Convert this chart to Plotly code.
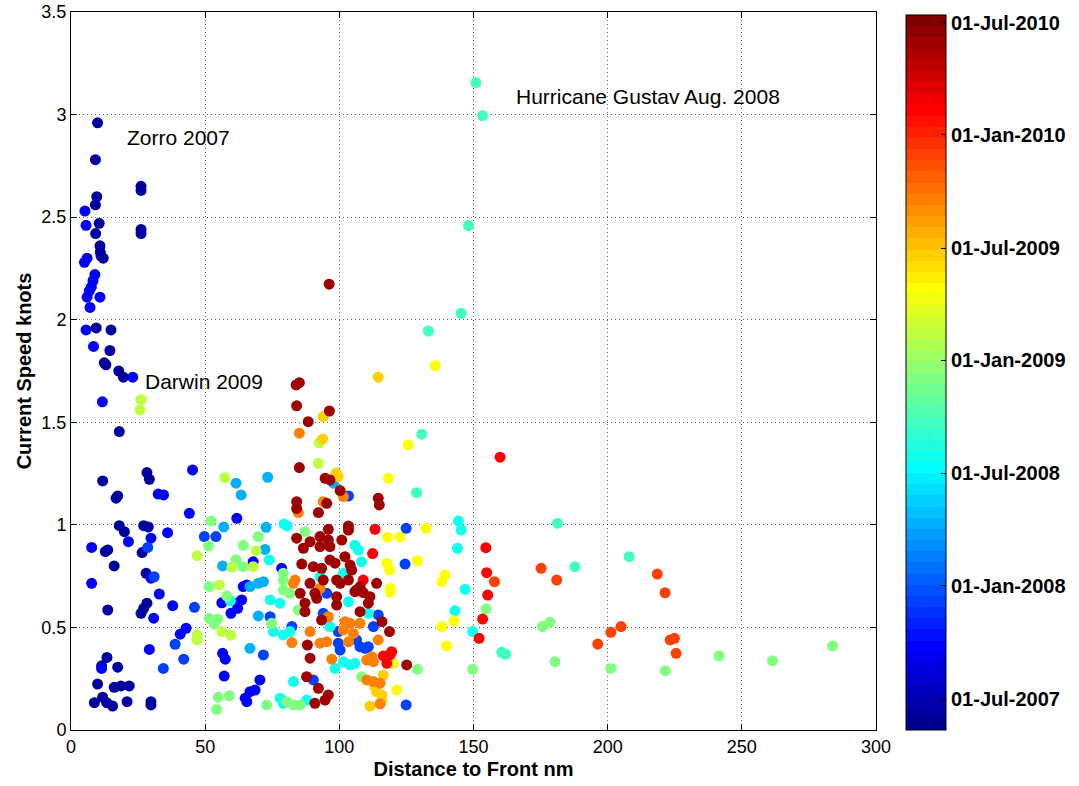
import numpy as np
import datetime as dt
import plotly.graph_objects as go

# ---- data: (distance nm, current speed knots), grouped by approximate date (decimal year) ----
pts_2007_42 = [(9.9,2.96),(9.1,2.78),(26.1,2.65),(26.1,2.63),(9.6,2.60),(9.1,2.56),(10.5,2.47),(9.2,2.42),(26.1,2.42),(26.1,2.44),
    (10.8,2.36),(10.9,2.33),(11.2,2.31),(12.0,2.30),(9.4,1.96),(14.9,1.95),(14.5,1.85),(12.4,1.79),(13.0,1.78),(17.8,1.75),(19.5,1.72),
    (18.0,1.455),(11.8,1.214),(28.3,1.255),(29.2,1.222),(17.4,1.141),(16.8,1.13),(18.0,0.996),(19.9,0.967),(27.1,0.996),(28.8,0.99),
    (26.5,0.865),(12.8,0.87),(13.7,0.878),(16.1,0.80),(28.0,0.764),(13.7,0.585),(28.3,0.618),(27.1,0.593),(26.1,0.569),(13.4,0.354),
    (11.4,0.313),(17.4,0.306),(9.9,0.224),(16.1,0.208),(18.6,0.215),(21.7,0.215),(8.7,0.133),(11.8,0.16),(13.3,0.133),(15.5,0.117),
    (20.9,0.138),(29.8,0.138),(29.8,0.122)]
pts_2007_75 = [(5.2,2.53),(5.6,2.46),(6.0,2.30),(5.0,2.28),(8.9,2.22),(8.2,2.19),(7.6,2.16),(6.8,2.14),(6.0,2.11),(10.8,2.11),(7.1,2.06),
    (5.6,1.95),(8.4,1.87),(23.0,1.72),(11.7,1.60),(32.5,1.15),(34.5,1.146),(45.3,1.268),(44.1,1.056),(29.8,0.935),(21.4,0.918),(36.0,0.962),
    (7.7,0.89),(7.7,0.715),(29.8,0.74),(32.9,0.663),(37.9,0.606),(30.8,0.545),(42.9,0.496),(40.7,0.467),(29.2,0.393),(11.4,0.30),
    (61.8,1.032),(56.2,0.62),(59.6,0.569),(62.1,0.593),(56.5,0.374),(57.5,0.345),(57.1,0.263),(67.9,0.82),(78.5,0.788),(65.5,0.707),
    (64.2,0.699),(61.8,0.618),(63.6,0.634),(70.4,0.244),(68.6,0.195),(66.7,0.187),(64.9,0.155),(65.5,0.138)]
pts_2007_95 = [(28.6,0.89),(31.0,0.747),(46.0,0.598),(38.8,0.418),(42.0,0.345),(34.4,0.30),(49.7,0.943),(54.0,0.943),(103.4,1.141),
    (95.3,0.666),(74.2,0.552),(82.3,0.504),(94.0,0.569),(99.6,0.48),(99.6,0.423),(100.3,0.39),(71.7,0.366),(90.3,0.244),(124.9,0.983),
    (124.5,0.809),(114.5,0.561),(112.7,0.504),(106.4,0.439),(107.7,0.406),(109.6,0.398),(110.8,0.406),(124.9,0.122)]
pts_2008_30 = [(61.5,1.203),(63.4,1.146),(56.9,0.99),(56.5,0.80),(73.3,1.232),(97.8,1.203),(72.7,0.988),(72.3,0.88),(71.7,0.723),
    (69.8,0.715),(66.7,0.699),(69.8,0.556),(66.7,0.398)]
pts_2008_55 = [(59.4,0.63),(79.4,1.004),(80.6,0.995),(105.8,0.90),(107.1,0.877),(73.9,0.829),(92.8,0.747),(101.5,0.764),(74.2,0.634),
    (77.9,0.618),(103.4,0.625),(75.4,0.48),(79.1,0.463),(81.6,0.48),(96.5,0.504),(98.4,0.30),(101.5,0.333),(104.0,0.317),(105.8,0.325),
    (82.9,0.236),(77.9,0.155),(79.1,0.13),(87.8,0.146),(108.3,0.82),(110.8,0.569),(144.4,1.019),(145.4,0.975),(144.0,0.886),
    (146.9,0.686),(143.1,0.582),(149.7,0.48)]
pts_2008_72 = [(133.2,1.945),(130.7,1.442),(128.8,1.157),(150.9,3.156),(153.4,2.995),(148.1,2.459),(145.4,2.031),(181.3,1.008),
    (187.8,0.796),(160.5,0.379),(162.0,0.369),(208.0,0.845)]
pts_2008_93 = [(52.2,1.019),(51.3,0.897),(61.5,0.83),(51.5,0.699),(58.1,0.653),(51.5,0.545),(54.7,0.54),(53.4,0.517),(54.9,0.16),
    (59.0,0.167),(54.3,0.10),(87.2,0.967),(64.2,0.90),(69.8,0.943),(64.2,0.796),(79.1,0.764),(79.1,0.731),(79.1,0.683),(81.6,0.666),
    (84.7,0.585),(74.8,0.52),(80.4,0.138),(82.9,0.122),(85.4,0.122),(72.9,0.122),(129.1,0.296),(108.3,0.26),(154.7,0.59),(175.7,0.504),
    (178.5,0.525),(180.4,0.333),(149.7,0.296),(201.2,0.30),(221.5,0.289),(241.5,0.361),(261.4,0.338),(283.8,0.41)]
pts_2009_12 = [(26.1,1.61),(25.7,1.56),(47.0,0.463),(47.0,0.44),(57.4,1.23),(47.0,0.85),(60.0,0.793),(55.3,0.707),(56.3,0.48),
    (59.6,0.462),(92.5,1.40),(92.2,1.30),(69.0,0.874),(67.9,0.796)]
pts_2009_34 = [(135.7,1.776),(125.7,1.39),(118.3,1.227),(132.3,0.983),(118.0,0.94),(122.6,0.94),(117.7,0.813),(118.7,0.78),(129.1,0.825),
    (139.4,0.756),(138.2,0.723),(119.0,0.69),(119.0,0.672),(138.2,0.504),(140.0,0.41),(120.1,0.325),(121.4,0.195),(142.7,0.531)]
pts_2009_48 = [(94.0,1.528),(93.8,1.419),(98.8,1.252),(99.6,1.235),(114.5,1.72),(116.4,0.268),(113.3,0.211),(113.9,0.187),(115.8,0.171),
    (115.8,0.146),(111.4,0.117)]
pts_2009_72 = [(85.1,1.447),(101.5,1.138),(84.7,1.06),(94.0,1.113),(83.5,0.731),(82.9,0.715),(92.8,0.69),(82.3,0.426),(89.1,0.48),
    (95.9,0.552),(101.5,0.488),(102.1,0.528),(104.0,0.52),(105.2,0.471),(92.8,0.423),(95.3,0.43),(97.2,0.345),(107.7,0.52),(103.4,0.43),
    (114.5,0.439),(110.2,0.341),(112.7,0.333),(112.1,0.357),(110.2,0.244),(112.7,0.236),(115.2,0.228),(115.2,0.127)]
pts_2009_93 = [(175.2,0.788),(181.0,0.731),(157.8,0.723),(218.5,0.76),(221.4,0.669),(205.0,0.504),(201.2,0.476),(196.3,0.419),
    (223.3,0.439),(224.9,0.447),(225.5,0.374)]
pts_2010_10 = [(113.3,0.978),(112.4,0.86),(108.9,0.731),(116.4,0.361),(118.9,0.366),(119.5,0.382),(117.7,0.325),(159.9,1.33),
    (154.6,0.889),(154.9,0.767),(155.3,0.658),(153.4,0.541),(152.1,0.447)]
pts_2010_42 = [(96.2,2.173),(83.9,1.682),(85.1,1.693),(84.1,1.58),(96.3,1.555),(88.4,1.503),(85.1,1.279),(94.7,1.227),(96.5,1.219),
    (100.3,1.167),(84.1,1.113),(84.1,1.08),(95.3,1.105),(92.2,1.06),(103.4,0.995),(103.4,0.975),(95.9,0.978),(100.9,0.926),(84.1,0.935),
    (86.6,0.886),(89.1,0.918),(92.8,0.943),(92.8,0.894),(95.9,0.926),(96.5,0.894),(86.0,0.809),(90.3,0.796),(93.4,0.788),(96.5,0.829),
    (98.4,0.813),(102.1,0.845),(104.0,0.804),(104.6,0.78),(89.1,0.715),(94.0,0.731),(99.0,0.731),(100.3,0.715),(103.4,0.731),(85.4,0.666),
    (87.2,0.618),(87.2,0.577),(90.9,0.666),(91.6,0.642),(99.0,0.65),(99.0,0.609),(105.8,0.674),(93.4,0.536),(88.1,0.414),(89.1,0.35),
    (87.8,0.26),(92.2,0.203),(95.9,0.171),(94.7,0.146),(90.9,0.13),(114.5,1.13),(114.9,1.097),(113.9,0.715),(107.7,0.699),(110.8,0.618),
    (111.4,0.65),(108.9,0.67),(106.4,0.683),(107.7,0.577),(115.9,0.528),(118.7,0.48),(125.1,0.317)]

group_dates = [2007.42, 2007.75, 2007.95, 2008.30, 2008.55, 2008.72, 2008.93, 2009.12, 2009.34, 2009.48, 2009.72, 2009.93, 2010.10, 2010.42]
groups = [pts_2007_42, pts_2007_75, pts_2007_95, pts_2008_30, pts_2008_55, pts_2008_72, pts_2008_93, pts_2009_12,
          pts_2009_34, pts_2009_48, pts_2009_72, pts_2009_93, pts_2010_10, pts_2010_42]

cbar_tick_dates = [(2007, 7), (2008, 1), (2008, 7), (2009, 1), (2009, 7), (2010, 1), (2010, 7)]
cbar_tick_text = ['01-Jul-2007', '01-Jan-2008', '01-Jul-2008', '01-Jan-2009', '01-Jul-2009', '01-Jan-2010', '01-Jul-2010']
color_min, color_max = 2007.36, 2010.53

annotations_text = ['Zorro 2007', 'Darwin 2009', 'Hurricane Gustav Aug. 2008']
annotations_xy = [(20.1, 2.89), (26.8, 1.70), (165.1, 3.09)]

x_ticks = [0, 50, 100, 150, 200, 250, 300]
y_ticks = [0, 0.5, 1, 1.5, 2, 2.5, 3, 3.5]
y_tick_text = ['0', '0.5', '1', '1.5', '2', '2.5', '3', '3.5']

# ---- build ----
xs, ys, ts = [], [], []
for d, g in zip(group_dates, groups):
    for (x, y) in g:
        xs.append(x); ys.append(y); ts.append(d)
order = np.argsort(ts, kind='stable')
xs = np.array(xs)[order]; ys = np.array(ys)[order]; ts = np.array(ts)[order]


def dec_year(y, m):
    d = dt.date(y, m, 1)
    start = dt.date(y, 1, 1)
    ndays = (dt.date(y + 1, 1, 1) - start).days
    return y + (d - start).days / ndays


cbar_tickvals = [dec_year(y, m) for (y, m) in cbar_tick_dates]


def jet(m=64):
    n = int(np.ceil(m / 4))
    u = np.concatenate([np.arange(1, n + 1) / n, np.ones(n - 1), np.arange(n, 0, -1) / n])
    g = int(np.ceil(n / 2)) - (1 if m % 4 == 1 else 0) + np.arange(1, len(u) + 1)
    r = g + n
    b = g - n
    J = np.zeros((m, 3))
    mk = r <= m
    J[r[mk] - 1, 0] = u[mk]
    mk = g <= m
    J[g[mk] - 1, 1] = u[mk]
    mk = b >= 1
    J[b[mk] - 1, 2] = u[mk]
    return J


J = jet(64)
cscale = []
for i, c in enumerate(J):
    col = 'rgb(%d,%d,%d)' % tuple(int(round(v * 255)) for v in c)
    cscale.append([i / 64, col])
    cscale.append([(i + 1) / 64, col])

FONT = 'Liberation Sans, Arial, sans-serif'

W, H = 1079, 786
PL, PT, PR, PB = 71, 12, 876, 730   # plot area in figure pixels

fig = go.Figure()
fig.add_trace(go.Scatter(
    x=xs, y=ys, mode='markers',
    marker=dict(size=11, color=ts, colorscale=cscale, cmin=color_min, cmax=color_max,
                line=dict(width=0),
                colorbar=dict(
                    x=(906 - PL) / (PR - PL), xanchor='left', xpad=0, ypad=0,
                    y=0, yanchor='bottom', len=715 / 718, lenmode='fraction',
                    thickness=40, thicknessmode='pixels',
                    outlinecolor='black', outlinewidth=1,
                    tickvals=cbar_tickvals, ticktext=cbar_tick_text,
                    ticks='inside', ticklen=5, tickcolor='black',
                    tickfont=dict(family=FONT, size=20, color='black', weight='bold'),
                )),
    showlegend=False, hoverinfo='skip'))

for txt, (ax, ay) in zip(annotations_text, annotations_xy):
    fig.add_annotation(x=ax, y=ay, text=txt, showarrow=False, xanchor='left', yanchor='middle',
                       font=dict(family=FONT, size=21, color='black'))

axis_common = dict(showline=True, linecolor='black', linewidth=1, mirror='ticks',
                   ticks='inside', ticklen=6, tickcolor='black',
                   showgrid=True, gridcolor='rgba(0,0,0,0.6)', griddash='1px,3px', gridwidth=1,
                   zeroline=False, ticklabeloverflow='allow',
                   tickfont=dict(family=FONT, size=18, color='black'))

fig.update_xaxes(range=[0, 300], tickvals=x_ticks, ticktext=[str(v) for v in x_ticks],
                 title=dict(text='Distance to Front nm', font=dict(family=FONT, size=20, color='black', weight='bold'),
                            standoff=6),
                 **axis_common)
fig.update_yaxes(range=[0, 3.5], tickvals=y_ticks, ticktext=y_tick_text,
                 title=dict(text='Current Speed knots', font=dict(family=FONT, size=20, color='black', weight='bold'),
                            standoff=4),
                 **axis_common)

fig.update_layout(width=W, height=H,
                  margin=dict(l=PL, r=W - PR, t=PT, b=H - PB, autoexpand=False),
                  plot_bgcolor='white', paper_bgcolor='white')

fig.write_html('out.html', config={'displayModeBar': False},
               post_script="document.body.style.margin='0px';document.body.style.overflow='hidden';")
